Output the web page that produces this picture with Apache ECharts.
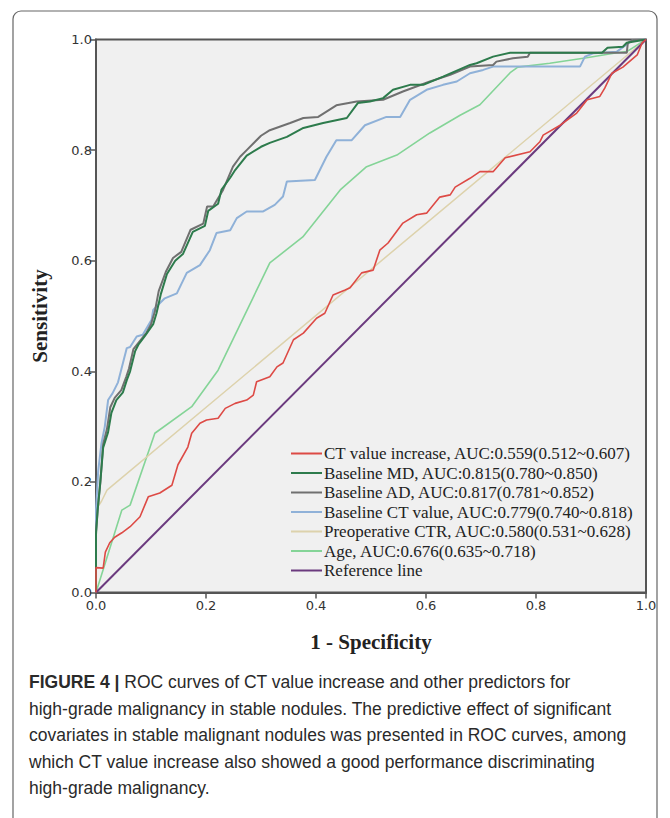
<!DOCTYPE html>
<html>
<head>
<meta charset="utf-8">
<script src="https://cdn.jsdelivr.net/npm/echarts@6/dist/echarts.min.js"></script>
<style>
html,body{margin:0;padding:0;background:#fff;}
#c{width:670px;height:818px;}
</style>
</head>
<body>
<div id="c"></div>
<script>
var xTicks = [0, 0.2, 0.4, 0.6, 0.8, 1.0];
var yTicks = [0, 0.2, 0.4, 0.6, 0.8, 1.0];
var seriesNames = [
  'CT value increase, AUC:0.559(0.512~0.607)',
  'Baseline MD, AUC:0.815(0.780~0.850)',
  'Baseline AD, AUC:0.817(0.781~0.852)',
  'Baseline CT value, AUC:0.779(0.740~0.818)',
  'Preoperative CTR, AUC:0.580(0.531~0.628)',
  'Age, AUC:0.676(0.635~0.718)',
  'Reference line'
];
var ctIncrease = [[0,0],[0,0.045],[0.013,0.044],[0.017,0.073],[0.025,0.09],[0.034,0.1],[0.047,0.108],[0.062,0.119],[0.08,0.137],[0.095,0.173],[0.116,0.18],[0.138,0.194],[0.149,0.231],[0.167,0.263],[0.174,0.288],[0.189,0.306],[0.201,0.312],[0.222,0.315],[0.235,0.333],[0.253,0.342],[0.274,0.348],[0.286,0.357],[0.292,0.381],[0.316,0.39],[0.329,0.408],[0.34,0.415],[0.359,0.457],[0.377,0.469],[0.401,0.496],[0.416,0.505],[0.431,0.538],[0.453,0.547],[0.462,0.551],[0.483,0.578],[0.504,0.583],[0.516,0.619],[0.531,0.632],[0.558,0.668],[0.583,0.683],[0.601,0.686],[0.625,0.715],[0.644,0.719],[0.653,0.733],[0.68,0.749],[0.698,0.761],[0.722,0.761],[0.744,0.786],[0.789,0.797],[0.807,0.815],[0.813,0.827],[0.844,0.845],[0.874,0.867],[0.893,0.891],[0.916,0.897],[0.925,0.912],[0.938,0.939],[0.958,0.95],[0.984,0.972],[0.993,0.994],[1,1]];
var baselineMD = [[0,0],[0,0.105],[0.003,0.15],[0.007,0.19],[0.013,0.262],[0.022,0.29],[0.028,0.325],[0.037,0.348],[0.049,0.362],[0.056,0.384],[0.062,0.4],[0.071,0.436],[0.077,0.448],[0.089,0.464],[0.104,0.485],[0.11,0.505],[0.118,0.54],[0.129,0.576],[0.144,0.6],[0.158,0.612],[0.176,0.652],[0.198,0.663],[0.204,0.69],[0.222,0.703],[0.228,0.728],[0.244,0.75],[0.253,0.764],[0.274,0.79],[0.3,0.806],[0.316,0.813],[0.347,0.824],[0.377,0.84],[0.413,0.849],[0.456,0.858],[0.476,0.885],[0.498,0.888],[0.522,0.894],[0.54,0.909],[0.571,0.918],[0.595,0.918],[0.631,0.933],[0.68,0.954],[0.692,0.957],[0.722,0.969],[0.753,0.976],[0.92,0.976],[0.93,0.985],[0.958,0.987],[0.965,0.994],[1,1]];
var baselineAD = [[0,0],[0,0.11],[0.004,0.16],[0.008,0.2],[0.013,0.268],[0.02,0.296],[0.026,0.335],[0.034,0.352],[0.046,0.366],[0.055,0.39],[0.06,0.405],[0.068,0.44],[0.08,0.455],[0.092,0.47],[0.1,0.485],[0.107,0.508],[0.114,0.545],[0.127,0.58],[0.14,0.605],[0.155,0.616],[0.172,0.656],[0.195,0.667],[0.202,0.698],[0.213,0.698],[0.231,0.728],[0.249,0.77],[0.262,0.788],[0.274,0.8],[0.3,0.826],[0.316,0.836],[0.353,0.849],[0.377,0.858],[0.404,0.86],[0.437,0.881],[0.474,0.888],[0.522,0.891],[0.558,0.906],[0.607,0.924],[0.644,0.936],[0.68,0.951],[0.722,0.954],[0.728,0.96],[0.758,0.966],[0.785,0.969],[0.789,0.976],[0.965,0.976],[0.967,0.994],[0.976,0.999],[1,1]];
var baselineCT = [[0,0],[0,0.15],[0.004,0.22],[0.01,0.27],[0.016,0.3],[0.022,0.348],[0.03,0.36],[0.04,0.38],[0.049,0.415],[0.056,0.442],[0.062,0.444],[0.074,0.463],[0.085,0.466],[0.101,0.493],[0.104,0.511],[0.125,0.532],[0.147,0.541],[0.165,0.578],[0.189,0.592],[0.207,0.619],[0.219,0.65],[0.244,0.655],[0.256,0.677],[0.274,0.689],[0.304,0.689],[0.325,0.701],[0.34,0.716],[0.347,0.743],[0.398,0.746],[0.419,0.788],[0.437,0.818],[0.465,0.818],[0.489,0.845],[0.528,0.86],[0.553,0.86],[0.571,0.891],[0.601,0.909],[0.631,0.918],[0.656,0.924],[0.68,0.939],[0.704,0.945],[0.722,0.951],[0.88,0.951],[0.889,0.969],[0.904,0.975],[0.947,0.978],[0.965,0.991],[0.976,0.999],[1,1]];
var preopCTR = [[0,0],[0,0.15],[0.01,0.165],[0.02,0.185],[1,1]];
var age = [[0,0],[0.047,0.149],[0.062,0.158],[0.107,0.288],[0.174,0.336],[0.222,0.402],[0.316,0.596],[0.376,0.643],[0.444,0.728],[0.492,0.77],[0.547,0.791],[0.607,0.831],[0.662,0.863],[0.698,0.882],[0.753,0.94],[0.767,0.95],[0.825,0.957],[0.892,0.967],[0.947,0.976],[0.965,0.978],[1,1]];
var referenceLine = [[0,0],[1,1]];
var captionLines = [
  'ROC curves of CT value increase and other predictors for',
  'high-grade malignancy in stable nodules. The predictive effect of significant',
  'covariates in stable malignant nodules was presented in ROC curves, among',
  'which CT value increase also showed a good performance discriminating',
  'high-grade malignancy.'
];

var colors = ['#dd4a45', '#2d7b4c', '#707070', '#8fb1d8', '#ddd2ac', '#84d497', '#6b3a7e'];
var widths = [1.6, 2, 2, 2, 1.5, 1.6, 2];
var dataSets = [ctIncrease, baselineMD, baselineAD, baselineCT, preopCTR, age, referenceLine];
var zOrder = [7, 5, 4, 3, 2, 1, 6];

var chart = echarts.init(document.getElementById('c'), null, {renderer: 'svg'});
var series = dataSets.map(function (d, i) {
  return {
    name: seriesNames[i], type: 'line', data: d, showSymbol: false, symbol: 'none',
    lineStyle: {color: colors[i], width: widths[i]}, itemStyle: {color: colors[i]},
    z: zOrder[i], animation: false
  };
});

var capFont = '"Liberation Sans", Arial, sans-serif';
var graphics = [{
  type: 'rect', shape: {x: 13, y: 11, width: 644, height: 830, r: 8},
  style: {fill: 'none', stroke: '#666', lineWidth: 1.2}, silent: true, z: -1
}];
captionLines.forEach(function (t, i) {
  graphics.push({
    type: 'text', left: 29, top: 673 + i * 26.5,
    style: {
      text: i === 0 ? '{b|FIGURE 4 |} ' + t : t,
      font: '17.5px ' + capFont, fill: '#2a2a2a',
      rich: {b: {fontWeight: 'bold', fontSize: 17.5, fontFamily: capFont, fill: '#2a2a2a'}}
    }
  });
});

chart.setOption({
  animation: false,
  backgroundColor: '#ffffff',
  grid: {left: 96, right: 24, top: 39.5, bottom: 225.5, show: true, backgroundColor: '#f0f0f0', borderColor: '#555', borderWidth: 2},
  xAxis: {
    type: 'value', min: 0, max: 1, interval: 0.2,
    name: '1 - Specificity', nameLocation: 'middle', nameGap: 39,
    nameTextStyle: {fontFamily: '"Liberation Serif", serif', fontWeight: 'bold', fontSize: 21, color: '#222'},
    axisLine: {show: true, lineStyle: {color: '#555', width: 2}},
    axisTick: {show: true, length: 6, lineStyle: {color: '#555', width: 1.5}},
    axisLabel: {fontFamily: '"DejaVu Sans", sans-serif', fontSize: 13, color: '#333', margin: 6,
      formatter: function (v) { return v.toFixed(1); }},
    splitLine: {show: false}
  },
  yAxis: {
    type: 'value', min: 0, max: 1, interval: 0.2,
    name: 'Sensitivity', nameLocation: 'middle', nameGap: 46,
    nameTextStyle: {fontFamily: '"Liberation Serif", serif', fontWeight: 'bold', fontSize: 21, color: '#222'},
    axisLine: {show: true, lineStyle: {color: '#555', width: 2}},
    axisTick: {show: true, length: 6, lineStyle: {color: '#555', width: 1.5}},
    axisLabel: {fontFamily: '"DejaVu Sans", sans-serif', fontSize: 13, color: '#333', margin: 4,
      formatter: function (v) { return v.toFixed(1); }},
    splitLine: {show: false}
  },
  legend: {
    show: true, orient: 'vertical', left: 286, top: 440,
    itemWidth: 31, itemHeight: 2, itemGap: 2.5, icon: 'rect',
    textStyle: {fontFamily: '"Liberation Serif", serif', fontSize: 17, color: '#222', padding: [0, 0, 0, -3]},
    data: seriesNames.map(function (n, i) { return {name: n, itemStyle: {color: colors[i]}}; }),
    selectedMode: false
  },
  graphic: graphics,
  series: series
});
</script>
</body>
</html>
